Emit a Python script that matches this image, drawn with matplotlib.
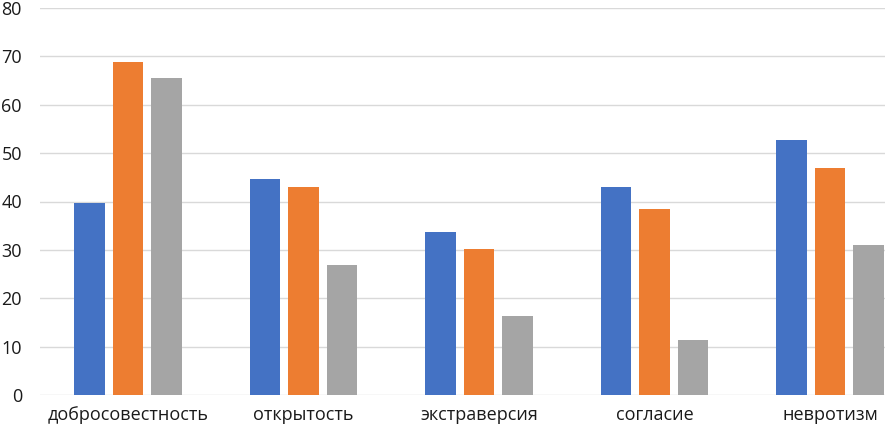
import numpy as np
import matplotlib.pyplot as plt

plt.rcParams['font.family'] = ['Open Sans', 'DejaVu Sans']

# данные
categories = ['добросовестность', 'открытость', 'экстраверсия', 'согласие', 'невротизм']
series_1 = [39.7, 44.6, 33.7, 43.1, 52.8]
series_2 = [68.8, 42.9, 30.1, 38.4, 47.0]
series_3 = [65.5, 26.8, 16.4, 11.4, 31.1]
y_ticks = [0, 10, 20, 30, 40, 50, 60, 70, 80]

colors = ['#4472C4', '#ED7D31', '#A5A5A5']

fig = plt.figure(figsize=(8.85, 4.32), dpi=100)
ax = fig.add_axes([40 / 885, 37 / 432, 878 / 885, 387 / 432])

x = np.arange(len(categories))
w = 0.174
step = 0.219
for i, (vals, c) in enumerate(zip([series_1, series_2, series_3], colors)):
    ax.bar(x + (i - 1) * step, vals, width=w, color=c, zorder=3)

ax.set_xlim(-0.5, len(categories) - 0.5)
ax.set_ylim(0, 80)
ax.set_yticks(y_ticks)
ax.set_xticks(x)
ax.set_xticklabels(categories)
ax.grid(axis='y', color='#D9D9D9', linewidth=1.0, zorder=0)
ax.set_axisbelow(True)
for s in ax.spines.values():
    s.set_visible(False)
ax.tick_params(axis='both', length=0, labelsize=13, colors='#1a1a1a')
ax.tick_params(axis='y', pad=13)
ax.tick_params(axis='x', pad=8)

fig.savefig('out.png', dpi=100)
